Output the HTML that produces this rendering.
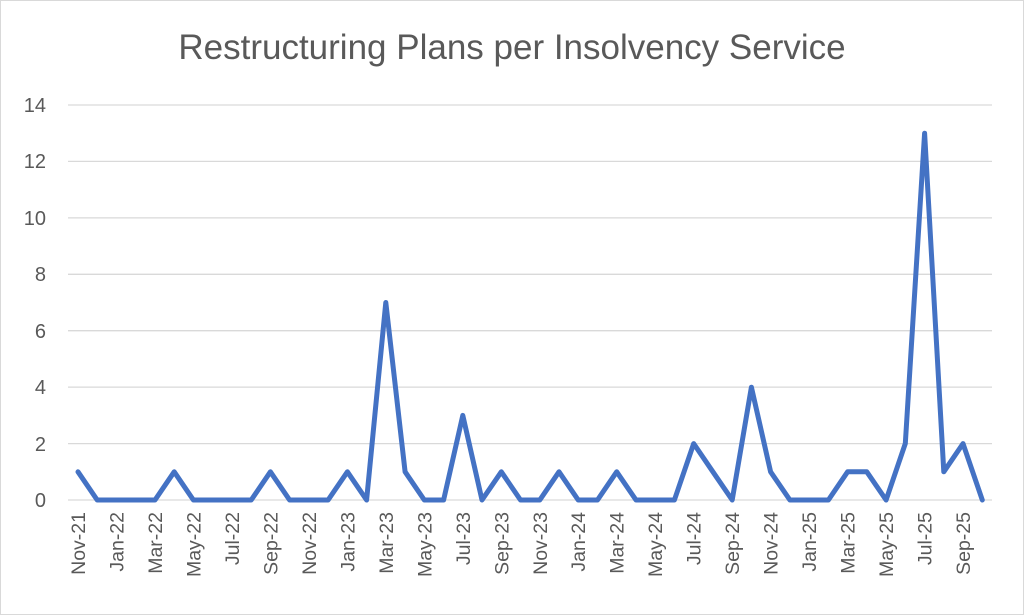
<!DOCTYPE html>
<html><head><meta charset="utf-8"><style>
html,body{margin:0;padding:0;background:#fff;}
svg{display:block;font-family:"Liberation Sans",Calibri,sans-serif;}
</style></head><body>
<svg width="1024" height="615" viewBox="0 0 1024 615" xmlns="http://www.w3.org/2000/svg">
<rect x="0.5" y="0.5" width="1023" height="614" fill="#fff" stroke="#d9d9d9"/>
<text x="512" y="59" text-anchor="middle" font-size="35" fill="#595959">Restructuring Plans per Insolvency Service</text>
<g stroke="#d9d9d9" stroke-width="1.3">
<line x1="68" x2="992" y1="105" y2="105"/>
<line x1="68" x2="992" y1="161.4" y2="161.4"/>
<line x1="68" x2="992" y1="217.9" y2="217.9"/>
<line x1="68" x2="992" y1="274.3" y2="274.3"/>
<line x1="68" x2="992" y1="330.7" y2="330.7"/>
<line x1="68" x2="992" y1="387.1" y2="387.1"/>
<line x1="68" x2="992" y1="443.6" y2="443.6"/>
<line x1="68" x2="992" y1="500" y2="500"/>
</g>
<g font-size="20" fill="#595959" text-anchor="end">
<text x="46" y="112">14</text><text x="46" y="168">12</text><text x="46" y="225">10</text>
<text x="46" y="281">8</text><text x="46" y="338">6</text><text x="46" y="394">4</text>
<text x="46" y="451">2</text><text x="46" y="507">0</text>
</g>
<g font-size="19.5" fill="#595959" text-anchor="end">
<text transform="translate(85,512) rotate(-90)">Nov-21</text>
<text transform="translate(123.5,512) rotate(-90)">Jan-22</text>
<text transform="translate(162,512) rotate(-90)">Mar-22</text>
<text transform="translate(200.4,512) rotate(-90)">May-22</text>
<text transform="translate(238.9,512) rotate(-90)">Jul-22</text>
<text transform="translate(277.4,512) rotate(-90)">Sep-22</text>
<text transform="translate(315.9,512) rotate(-90)">Nov-22</text>
<text transform="translate(354.4,512) rotate(-90)">Jan-23</text>
<text transform="translate(392.8,512) rotate(-90)">Mar-23</text>
<text transform="translate(431.3,512) rotate(-90)">May-23</text>
<text transform="translate(469.8,512) rotate(-90)">Jul-23</text>
<text transform="translate(508.3,512) rotate(-90)">Sep-23</text>
<text transform="translate(546.8,512) rotate(-90)">Nov-23</text>
<text transform="translate(585.2,512) rotate(-90)">Jan-24</text>
<text transform="translate(623.7,512) rotate(-90)">Mar-24</text>
<text transform="translate(662.2,512) rotate(-90)">May-24</text>
<text transform="translate(700.7,512) rotate(-90)">Jul-24</text>
<text transform="translate(739.2,512) rotate(-90)">Sep-24</text>
<text transform="translate(777.6,512) rotate(-90)">Nov-24</text>
<text transform="translate(816.1,512) rotate(-90)">Jan-25</text>
<text transform="translate(854.6,512) rotate(-90)">Mar-25</text>
<text transform="translate(893.1,512) rotate(-90)">May-25</text>
<text transform="translate(931.6,512) rotate(-90)">Jul-25</text>
<text transform="translate(970,512) rotate(-90)">Sep-25</text>
</g>
<polyline fill="none" stroke="#4472c4" stroke-width="5" stroke-linejoin="round" stroke-linecap="round" points="78,471.8 97.2,500 116.5,500 135.7,500 155,500 174.2,471.8 193.4,500 212.7,500 231.9,500 251.2,500 270.4,471.8 289.6,500 308.9,500 328.1,500 347.4,471.8 366.6,500 385.8,302.5 405.1,471.8 424.3,500 443.6,500 462.8,415.4 482,500 501.3,471.8 520.5,500 539.8,500 559,471.8 578.2,500 597.5,500 616.7,471.8 636,500 655.2,500 674.4,500 693.7,443.6 712.9,471.8 732.2,500 751.4,387.2 770.6,471.8 789.9,500 809.1,500 828.4,500 847.6,471.8 866.8,471.8 886.1,500 905.3,443.6 924.6,133.3 943.8,471.8 963,443.6 982.3,500"/>
</svg>
</body></html>
